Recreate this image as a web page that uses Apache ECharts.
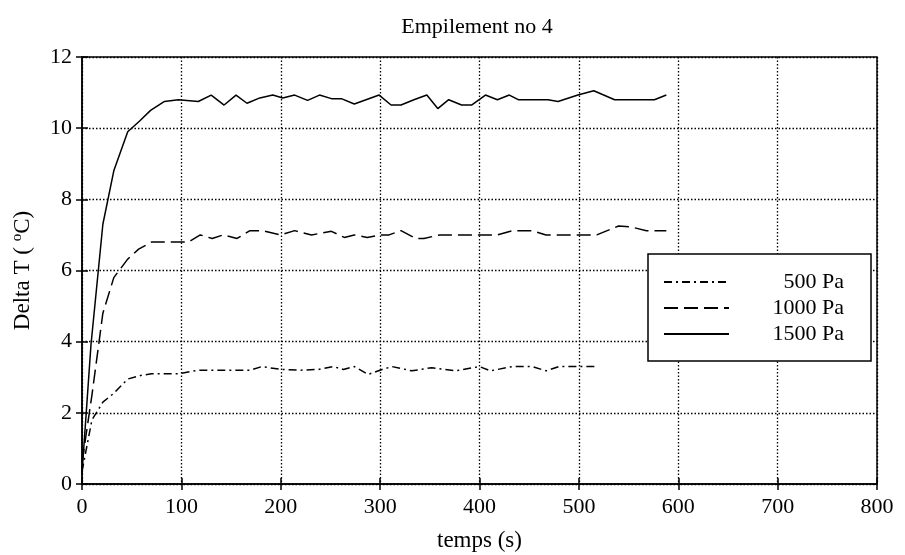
<!DOCTYPE html>
<html><head><meta charset="utf-8">
<script src="https://cdn.jsdelivr.net/npm/echarts@6/dist/echarts.min.js"></script>
<style>html,body{margin:0;padding:0;background:#fff}#c{width:905px;height:555px}</style>
</head><body><div id="c"></div>
<script>
var xTicks = [0,100,200,300,400,500,600,700,800];
var yTicks = [0,2,4,6,8,10,12];
var seriesNames = ['500 Pa','1000 Pa','1500 Pa'];

var t500 = [0,10,21,32,46,59,70,98,117,169,181,200,220,238,253,263,274,288,302,312,332,352,376,400,411,433,453,467,480,518];
var v500 = [0.35,1.8,2.3,2.55,2.95,3.05,3.1,3.1,3.2,3.2,3.3,3.22,3.2,3.22,3.3,3.22,3.3,3.08,3.22,3.3,3.18,3.27,3.18,3.3,3.18,3.3,3.3,3.18,3.3,3.3];

var t1000 = [0,10,21,32,46,57,70,98,107,119,131,142,156,169,181,200,214,231,251,264,274,287,302,309,321,336,344,360,400,418,433,453,467,518,540,553,568,588];
var v1000 = [0.6,2.5,4.8,5.8,6.32,6.6,6.8,6.8,6.8,7.0,6.9,7.0,6.9,7.12,7.12,7.0,7.12,7.0,7.1,6.93,7.0,6.93,7.0,7.0,7.12,6.9,6.9,7.0,7.0,7.0,7.12,7.12,7.0,7.0,7.25,7.22,7.12,7.12];

var t1500 = [0,9,21,32,46,58,69,83,97,117,130,143,155,166,179,192,202,214,227,239,251,261,274,299,311,321,334,347,358,369,382,392,406,418,430,439,469,479,499,515,536,576,588];
var v1500 = [0.3,3.9,7.3,8.8,9.9,10.2,10.5,10.75,10.8,10.75,10.93,10.65,10.93,10.7,10.85,10.93,10.85,10.93,10.78,10.93,10.83,10.83,10.68,10.93,10.65,10.65,10.8,10.93,10.55,10.8,10.65,10.65,10.93,10.8,10.93,10.8,10.8,10.75,10.93,11.05,10.8,10.8,10.93];

function pairs(t, v){ return t.map(function(x,i){ return [x, v[i]]; }); }

var font = '"Liberation Serif", "Times New Roman", serif';
var chart = echarts.init(document.getElementById('c'));
var tickStyle = {show:true, inside:true, length:6, lineStyle:{color:'#000', width:1.5}};
var gridLine = {show:true, lineStyle:{color:'#000', type:[1.5,2], width:1.3}};
chart.setOption({
  animation:false,
  backgroundColor:'#fff',
  title:{text:'Empilement no 4', left:472, textAlign:'center', top:11,
    textStyle:{fontFamily:font, fontSize:22, fontWeight:'normal', color:'#000'}},
  grid:{left:82, right:28, top:57, bottom:71, show:true, borderColor:'#000', borderWidth:1.5,
    containLabel:false, outerBoundsMode:'none'},
  xAxis:[{type:'value', min:xTicks[0], max:xTicks[xTicks.length-1], interval:100,
    name:'temps (s)', nameLocation:'middle', nameGap:45,
    nameTextStyle:{fontFamily:font, fontSize:23, color:'#000'},
    axisLine:{show:true, lineStyle:{color:'#000', width:1.5}},
    axisTick:tickStyle,
    axisLabel:{fontFamily:font, fontSize:22, color:'#000', margin:12},
    splitLine:gridLine},
   {type:'value', position:'top', min:0, max:800, interval:100,
    axisLine:{show:false}, axisTick:tickStyle, axisLabel:{show:false}, splitLine:{show:false}}],
  yAxis:[{type:'value', min:yTicks[0], max:yTicks[yTicks.length-1], interval:2,
    name:'Delta T ( {s|o}C)', nameLocation:'middle', nameGap:47,
    nameTextStyle:{fontFamily:font, fontSize:23, color:'#000',
      rich:{s:{fontFamily:font, fontSize:15, color:'#000', verticalAlign:'top', padding:[0,0,10,0]}}},
    axisLine:{show:true, lineStyle:{color:'#000', width:1.5}},
    axisTick:tickStyle,
    axisLabel:{fontFamily:font, fontSize:22, color:'#000', margin:10},
    splitLine:gridLine},
   {type:'value', position:'right', min:0, max:12, interval:2,
    axisLine:{show:false}, axisTick:tickStyle, axisLabel:{show:false}, splitLine:{show:false}}],
  legend:{orient:'vertical', left:648, top:254,
    padding:[15,27,14,15], itemGap:0, itemWidth:65, itemHeight:14,
    backgroundColor:'#fff', borderColor:'#000', borderWidth:1.5,
    itemStyle:{opacity:0},
    data:seriesNames,
    formatter:function(n){ return '{a|' + n + '}'; },
    textStyle:{fontFamily:font, fontSize:22, color:'#000',
      rich:{a:{width:110, height:26, lineHeight:26, align:'right', fontFamily:font, fontSize:22, color:'#000'}}}},
  series:[
    {name:seriesNames[0], type:'line', data:pairs(t500,v500), symbol:'none',
      lineStyle:{color:'#000', width:1.5, type:[8,4,2,4]}, itemStyle:{color:'#000'}},
    {name:seriesNames[1], type:'line', data:pairs(t1000,v1000), symbol:'none',
      lineStyle:{color:'#000', width:1.5, type:[14,6]}, itemStyle:{color:'#000'}},
    {name:seriesNames[2], type:'line', data:pairs(t1500,v1500), symbol:'none',
      lineStyle:{color:'#000', width:1.5, type:'solid'}, itemStyle:{color:'#000'}}
  ]
});
</script></body></html>
